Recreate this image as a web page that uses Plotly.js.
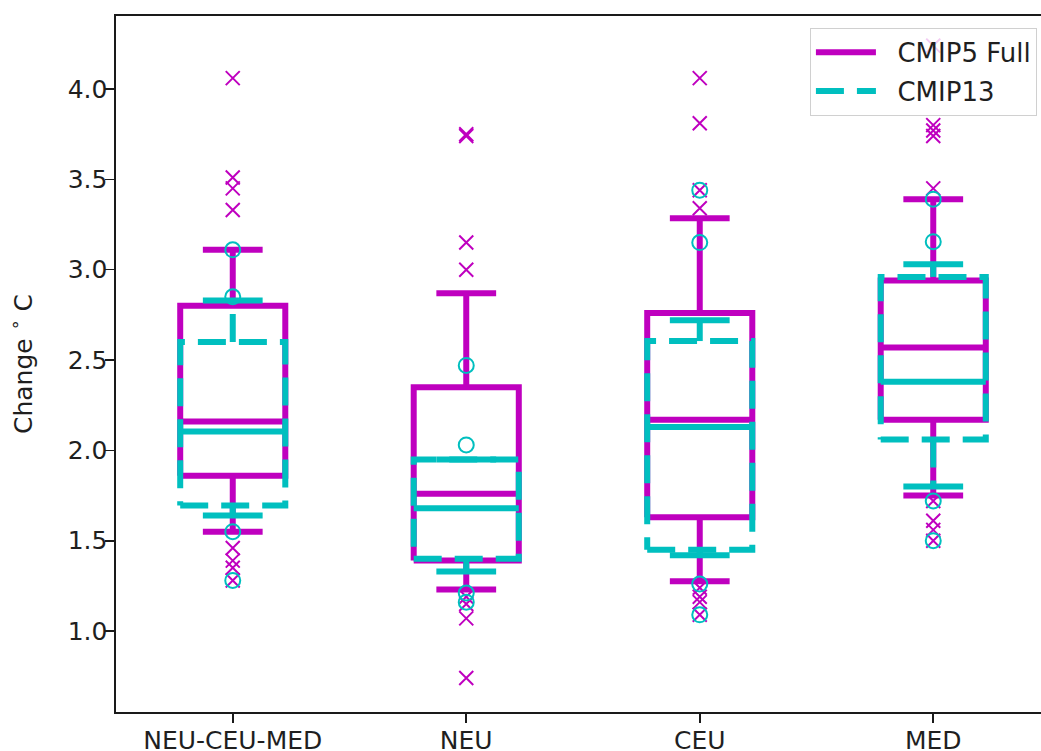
<!DOCTYPE html>
<html><head><meta charset="utf-8">
<script src="https://cdn.plot.ly/plotly-3.0.1.min.js"></script>
<style>html,body{margin:0;padding:0;overflow:hidden;background:#fff}#chart{width:1060px;height:751px}</style>
</head><body><div id="chart"></div>
<script>
// ---- data ----
const categories = ['NEU-CEU-MED', 'NEU', 'CEU', 'MED'];
const seriesNames = ['CMIP5 Full', 'CMIP13'];
const yTickVals = [1.0, 1.5, 2.0, 2.5, 3.0, 3.5, 4.0];

// CMIP5 Full
const full_lowerWhisker = [1.55, 1.23, 1.275, 1.75];
const full_q1 = [1.86, 1.39, 1.63, 2.17];
const full_median = [2.16, 1.76, 2.17, 2.57];
const full_q3 = [2.80, 2.35, 2.76, 2.94];
const full_upperWhisker = [3.11, 2.87, 3.285, 3.39];
const full_outliers = [
  [4.06, 3.51, 3.45, 3.33, 1.46, 1.39, 1.35, 1.28],
  [3.75, 3.74, 3.15, 3.00, 1.19, 1.15, 1.07, 0.74],
  [4.06, 3.81, 3.44, 3.34, 1.24, 1.19, 1.16, 1.09],
  [4.24, 3.80, 3.77, 3.74, 3.45, 1.72, 1.61, 1.56, 1.50]
];

// CMIP13
const c13_lowerWhisker = [1.64, 1.33, 1.42, 1.80];
const c13_q1 = [1.695, 1.40, 1.45, 2.06];
const c13_median = [2.105, 1.68, 2.13, 2.38];
const c13_q3 = [2.60, 1.95, 2.605, 2.96];
const c13_upperWhisker = [2.83, 1.95, 2.72, 3.03];
const c13_outliers = [
  [3.11, 2.85, 1.55, 1.28],
  [2.47, 2.03, 1.21, 1.16],
  [3.44, 3.15, 1.26, 1.09],
  [3.39, 3.155, 1.72, 1.50]
];

// ---- styles ----
const MAGENTA = '#bf00bf';
const CYAN = '#00bfbf';
const BOX_HALF = 0.225;   // half box width (x units)
const CAP_HALF = 0.128;   // half cap width
const LW = 6;
const DASH = '28px,13px';
const LEGEND_PAD = '\u00a0\u00a0';

function buildSeries(name, color, dashed, lw, q1, med, q3, uw, outl, symbol, msize, group) {
  const pos = categories.map((c, i) => i + 1);
  const bx = [], by = [], mx = [], my = [], wx = [], wy = [], cx = [], cy = [], ox = [], oy = [];
  pos.forEach((p, i) => {
    bx.push(p - BOX_HALF, p + BOX_HALF, p + BOX_HALF, p - BOX_HALF, p - BOX_HALF, null);
    by.push(q1[i], q1[i], q3[i], q3[i], q1[i], null);
    mx.push(p - BOX_HALF, p + BOX_HALF, null);
    my.push(med[i], med[i], null);
    wx.push(p, p, null, p, p, null);
    wy.push(q1[i], lw[i], null, q3[i], uw[i], null);
    cx.push(p - CAP_HALF, p + CAP_HALF, null, p - CAP_HALF, p + CAP_HALF, null);
    cy.push(lw[i], lw[i], null, uw[i], uw[i], null);
    outl[i].forEach(v => { ox.push(p); oy.push(v); });
  });
  const dash = dashed ? DASH : 'solid';
  const base = {type: 'scatter', mode: 'lines', hoverinfo: 'skip', legendgroup: group, connectgaps: false};
  return [
    Object.assign({}, base, {x: bx, y: by, name: LEGEND_PAD + name, showlegend: true, line: {color: color, width: LW, dash: dash}}),
    Object.assign({}, base, {x: wx, y: wy, name: name, showlegend: false, line: {color: color, width: LW, dash: dash}}),
    Object.assign({}, base, {x: cx, y: cy, name: name, showlegend: false, line: {color: color, width: LW}}),
    Object.assign({}, base, {x: mx, y: my, name: name, showlegend: false, line: {color: color, width: LW}}),
    {type: 'scatter', mode: 'markers', x: ox, y: oy, name: name, showlegend: false, legendgroup: group, hoverinfo: 'skip',
     marker: {symbol: symbol, size: msize, color: color, line: {color: color, width: 2}}}
  ];
}

const traces = [].concat(
  buildSeries(seriesNames[0], MAGENTA, false, full_lowerWhisker, full_q1, full_median, full_q3, full_upperWhisker, full_outliers, 'x-thin', 14, 'g1'),
  buildSeries(seriesNames[1], CYAN, true, c13_lowerWhisker, c13_q1, c13_median, c13_q3, c13_upperWhisker, c13_outliers, 'circle-open', 15, 'g2')
);

const axisCommon = {
  showgrid: false, zeroline: false, showline: true, mirror: true,
  linecolor: '#1a1a1a', linewidth: 1.6, ticks: 'outside', ticklen: 9, tickwidth: 1.6, tickcolor: '#1a1a1a',
  tickfont: {size: 25, color: '#1f1f1f'}
};

const layout = {
  width: 1060, height: 751,
  margin: {l: 116, r: 10, t: 16, b: 39},
  paper_bgcolor: '#ffffff', plot_bgcolor: '#ffffff',
  font: {family: 'DejaVu Sans, sans-serif', size: 25, color: '#1f1f1f'},
  xaxis: Object.assign({}, axisCommon, {
    range: [0.5, 4.5], tickmode: 'array', tickvals: categories.map((c, i) => i + 1), ticktext: categories,
    ticklabelstandoff: -4
  }),
  yaxis: Object.assign({}, axisCommon, {
    range: [0.552, 4.404], tickmode: 'array', tickvals: yTickVals, ticktext: yTickVals.map(v => v.toFixed(1)),
    ticklabelstandoff: -7,
    title: {text: 'Change <sup>∘</sup> C', font: {size: 25, color: '#1f1f1f'}, standoff: 28}
  }),
  showlegend: true,
  legend: {
    x: 0.986, y: 0.983, xanchor: 'right', yanchor: 'top',
    bgcolor: 'rgba(255,255,255,0.8)', bordercolor: '#d0d0d0', borderwidth: 1,
    font: {size: 26, color: '#1f1f1f'}, itemwidth: 60, tracegroupgap: 2, traceorder: 'grouped'
  }
};

Plotly.newPlot('chart', traces, layout, {displayModeBar: false, staticPlot: true});
</script>
</body></html>
